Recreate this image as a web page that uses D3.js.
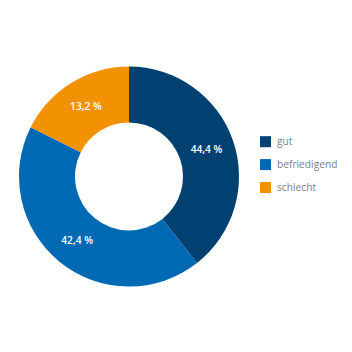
<!DOCTYPE html>
<html lang="de">
<head>
<meta charset="UTF-8">
<title>Donut</title>
<script src="https://cdn.jsdelivr.net/npm/d3@7"></script>
<style>
  html, body { margin: 0; padding: 0; background: #fff; }
  svg { display: block; font-family: "Open Sans", "Noto Sans", sans-serif; }
</style>
</head>
<body>
<div id="chart"></div>
<script>
// categories and colours
const categories = ['gut', 'befriedigend', 'schlecht']
const colors = ['#004172', '#0069b4', '#f39200']
// printed labels
const labels = ['44,4 %', '42,4 %', '13,2 %']
// segment sizes as drawn in the picture (they don't quite match the printed numbers)
const shares = [39.4, 43.0, 17.6]

const width = 352, height = 352
const cx = 129, cy = 176.5
const outerR = 110, innerR = 54

const svg = d3.select('#chart')
    .append('svg')
    .attr('width', width)
    .attr('height', height)

const color = d3.scaleOrdinal().domain(categories).range(colors)

const pie = d3.pie().sort(null).value(d => d.value)
const data = pie(categories.map((c, i) => ({ name: c, value: shares[i], label: labels[i] })))

const arc = d3.arc().innerRadius(innerR).outerRadius(outerR)
const labelArc = d3.arc().innerRadius(82).outerRadius(82)

const g = svg.append('g').attr('transform', `translate(${cx},${cy})`)

g.selectAll('path')
    .data(data)
    .join('path')
    .attr('d', arc)
    .attr('fill', d => color(d.data.name))

g.selectAll('text')
    .data(data)
    .join('text')
    .attr('x', d => labelArc.centroid(d)[0])
    .attr('y', d => labelArc.centroid(d)[1])
    .attr('dy', '0.35em')
    .attr('text-anchor', 'middle')
    .style('font-size', '10.2px')
    .style('font-weight', 600)
    .attr('fill', '#fff')
    .text(d => d.data.label)

// legend
const ly = d3.scalePoint().domain(categories).range([141.7, 187.5])
const legend = svg.append('g')
    .selectAll('g')
    .data(categories)
    .join('g')
    .attr('transform', d => `translate(260,${ly(d)})`)

legend.append('rect')
    .attr('x', 0)
    .attr('y', -5.5)
    .attr('width', 11)
    .attr('height', 11)
    .attr('fill', d => color(d))

legend.append('text')
    .attr('x', 17)
    .attr('dy', '0.32em')
    .style('font-size', '10.2px')
    .attr('fill', '#808080')
    .text(d => d)
</script>
</body>
</html>
